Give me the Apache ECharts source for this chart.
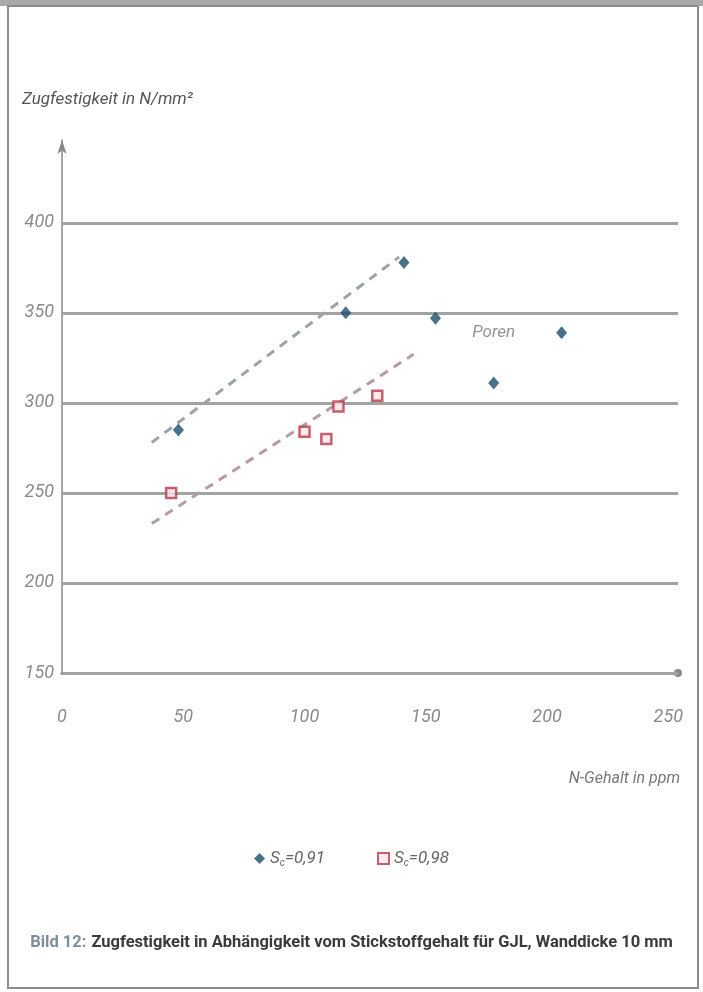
<!DOCTYPE html>
<html>
<head>
<meta charset="utf-8">
<script src="https://cdn.jsdelivr.net/npm/echarts@6/dist/echarts.min.js"></script>
<style>
html,body{margin:0;padding:0;background:#fff;}
#chart{width:703px;height:992px;}
</style>
</head>
<body>
<div id="chart"></div>
<script>
// ---- data ----
const xTicks = [0, 50, 100, 150, 200, 250];
const yTicks = [150, 200, 250, 300, 350, 400];
const seriesNames = ['Sc=0,91', 'Sc=0,98'];
const sc091 = [[48, 285], [117, 350], [141, 378], [154, 347], [178, 311], [206, 339]];
const sc098 = [[45, 250], [100, 284], [109, 280], [114, 298], [130, 304]];
const trend091 = [[37, 278], [139, 381]];
const trend098 = [[37, 233], [145, 327]];
const annotations = [[178, 339, 'Poren']];
const yTitle = 'Zugfestigkeit in N/mm²';
const xTitle = 'N-Gehalt in ppm';
const captionLead = 'Bild 12:';
const captionText = 'Zugfestigkeit in Abhängigkeit vom Stickstoffgehalt für GJL, Wanddicke 10 mm';

const FONT = 'Roboto, "Liberation Sans", sans-serif';
const chart = echarts.init(document.getElementById('chart'));

const option = {
  backgroundColor: '#ffffff',
  animation: false,
  graphic: [
    { type: 'rect', shape: { x: 0, y: 0, width: 703, height: 6 }, style: { fill: '#a9a9a9' }, silent: true },
    { type: 'rect', shape: { x: 8, y: 6, width: 690, height: 982 }, style: { fill: 'none', stroke: '#8c8c8c', lineWidth: 2 }, silent: true }
  ],
  title: {
    text: '{a|' + captionLead + '} {b|' + captionText + '}',
    left: 'center',
    top: 929,
    textStyle: {
      rich: {
        a: { fontFamily: FONT, fontSize: 16.5, fontWeight: 'bold', color: '#7d8f9c' },
        b: { fontFamily: FONT, fontSize: 16.5, fontWeight: 'bold', color: '#3a3a3a' }
      }
    }
  },
  legend: {
    top: 845,
    left: 'center',
    itemGap: 52,
    itemWidth: 11,
    itemHeight: 11,
    data: [
      { name: seriesNames[0], icon: 'diamond' },
      { name: seriesNames[1], icon: 'rect' }
    ],
    formatter: function (name) {
      return '{s|S}{sub|c}{t|' + name.slice(2) + '}';
    },
    textStyle: {
      rich: {
        s: { fontFamily: FONT, fontStyle: 'italic', fontSize: 17, color: '#666' },
        sub: { fontFamily: FONT, fontStyle: 'italic', fontSize: 10, color: '#666', padding: [9, 0, 0, 0] },
        t: { fontFamily: FONT, fontStyle: 'italic', fontSize: 17, color: '#666' }
      }
    }
  },
  grid: { left: 62, right: 25, top: 140, bottom: 319, containLabel: false, outerBoundsMode: 'none' },
  xAxis: {
    type: 'value',
    min: 0,
    max: 254,
    interval: 50,
    name: xTitle,
    nameLocation: 'end',
    nameGap: 2,
    nameTextStyle: {
      fontFamily: FONT, fontStyle: 'italic', fontSize: 16, color: '#777',
      align: 'right', verticalAlign: 'top', padding: [98, 0, 0, 0]
    },
    axisLine: { show: true, lineStyle: { color: '#8a8a8a', width: 3 }, symbol: ['none', 'circle'], symbolSize: [8, 8] },
    axisTick: { show: false },
    splitLine: { show: false },
    axisLabel: {
      margin: 35,
      fontFamily: FONT, fontStyle: 'italic', fontSize: 18, color: '#8a8a8a',
      formatter: function (v) { return xTicks.indexOf(v) >= 0 ? String(v) : ''; }
    }
  },
  yAxis: {
    type: 'value',
    min: 150,
    max: 446,
    interval: 50,
    name: yTitle,
    nameLocation: 'end',
    nameGap: 32,
    nameTextStyle: {
      fontFamily: FONT, fontStyle: 'italic', fontSize: 17, color: '#555',
      align: 'left', padding: [0, 0, 0, -40]
    },
    axisLine: { show: true, lineStyle: { color: '#8a8a8a', width: 1.5 }, symbol: ['none', 'arrow'], symbolSize: [7, 14] },
    axisTick: { show: false },
    splitLine: { show: false },
    axisLabel: {
      margin: 8,
      fontFamily: FONT, fontStyle: 'italic', fontSize: 18, color: '#8a8a8a',
      formatter: function (v) { return yTicks.indexOf(v) >= 0 ? String(v) : ''; }
    }
  },
  series: [
    {
      type: 'line', name: 'grid', data: [], silent: true, z: 1,
      markLine: {
        silent: true, symbol: ['none', 'none'], animation: false,
        label: { show: false },
        lineStyle: { color: '#a3a3a3', width: 3, type: 'solid' },
        data: yTicks.map(v => ({ yAxis: v }))
      }
    },
    {
      type: 'line', name: 'trend091', data: trend091, showSymbol: false, symbol: 'none', silent: true, z: 2,
      lineStyle: { color: '#9aa3aa', width: 3, type: [9, 7] }
    },
    {
      type: 'line', name: 'trend098', data: trend098, showSymbol: false, symbol: 'none', silent: true, z: 2,
      lineStyle: { color: '#b59ca0', width: 3, type: [9, 7] }
    },
    {
      type: 'scatter', name: seriesNames[0], data: sc091, symbol: 'diamond', symbolSize: [11, 13], z: 5,
      itemStyle: { color: '#1c4d6a' }
    },
    {
      type: 'scatter', name: seriesNames[1], data: sc098, symbol: 'rect', symbolSize: 10, z: 5,
      itemStyle: { color: '#fbe6ea', borderColor: '#b8394c', borderWidth: 2.5 }
    },
    {
      type: 'scatter', name: 'annot', data: annotations, symbolSize: 0, silent: true, z: 6,
      label: {
        show: true, position: 'inside',
        formatter: p => p.value[2],
        fontFamily: FONT, fontStyle: 'italic', fontSize: 17, color: '#777'
      }
    }
  ]
};
chart.setOption(option);
</script>
</body>
</html>
